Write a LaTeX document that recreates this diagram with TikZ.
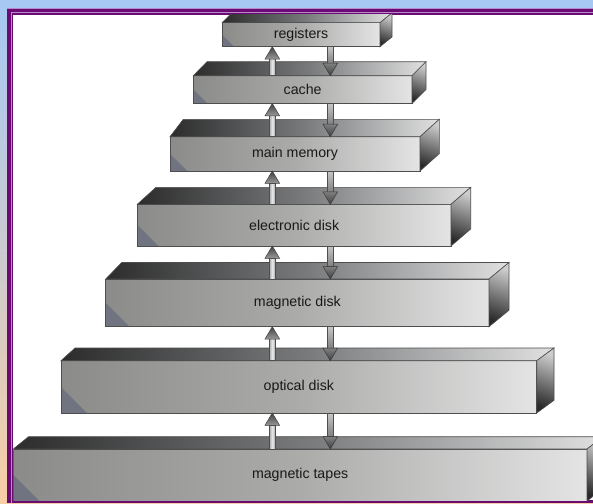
\documentclass[tikz,border=0pt]{standalone}
\usepackage{fontspec}
\setmainfont{Liberation Sans}
\definecolor{bgtop}{HTML}{A6C8F3}
\definecolor{bgbot}{HTML}{F8CEA4}
\definecolor{purp}{HTML}{6B0A72}
\definecolor{lilac}{HTML}{B68ACB}
\definecolor{frlo}{HTML}{707380}
\definecolor{frleft}{HTML}{8B8C89}
\definecolor{frmid}{HTML}{ABABAA}
\definecolor{frhi}{HTML}{E4E4E4}
\definecolor{toplo}{HTML}{2C2C2C}
\definecolor{topmid}{HTML}{787A7C}
\definecolor{tophi}{HTML}{E0E0E0}
\definecolor{sidehi}{HTML}{CDCDCD}
\definecolor{sidelo}{HTML}{2A2A2A}
\definecolor{edgec}{HTML}{4E4E4E}
\begin{document}
\begin{tikzpicture}[x=1pt,y=-1pt,
  front/.style={left color=frleft, right color=frhi, middle color=frmid,
    draw=edgec, line width=0.6pt,
    inner sep=0pt, outer sep=0pt, font=\fontsize{14.2}{17}\selectfont, text=black!90,
    path picture={\shade[bottom color=frlo, middle color=frleft, top color=frleft, shading angle=-45]
      (path picture bounding box.south west) -- ++(#1,0) -- ++(-#1,-#1) -- cycle;}},
  topface/.style={left color=toplo, right color=tophi, middle color=topmid, draw=edgec, line width=0.6pt},
  sideface/.style={top color=sidehi, bottom color=sidelo, shading angle=-20, draw=edgec, line width=0.6pt},
  upshaft/.style={left color=gray!70, right color=gray!75, middle color=white!92!black, draw=edgec, line width=0.5pt},
  uphead/.style={top color=black!75, bottom color=black!40, draw=black!75, line width=0.5pt},
  downshaft/.style={top color=black!22, bottom color=black!50, draw=edgec, line width=0.5pt},
  downhead/.style={top color=black!50, bottom color=black!75, draw=black!78, line width=0.5pt}]
\useasboundingbox (0,0) rectangle (593,503);
% background and frame
\shade[top color=bgtop, bottom color=bgbot, middle color=bgtop!55!bgbot] (0,0) rectangle (593,503);
\fill[lilac] (7,8) rectangle (593,503);
\fill[purp] (7,9) rectangle (593,503);
\fill[lilac] (11,12) rectangle (593,503);
\fill[purp] (12,13.3) rectangle (593,503);
\fill[white] (13.3,14.7) rectangle (593,500);
\coordinate (colU) at (272.3,0);
\coordinate (colD) at (330.3,0);
\newcommand\blk[5]{%
  \path[topface] (#1.north west) -- (#2,#4) -- (#3,#4) -- (#1.north east) -- cycle;
  \path[sideface] (#1.north east) -- (#3,#4) -- (#3,#4+#5) -- (#1.south east) -- cycle;
}
\newcommand\updown[2]{%
  \coordinate (#1-ut) at (colU |- #1.south);
  \coordinate (#2-ub) at (colU |- #2.north);
  \coordinate (#1-dt) at (colD |- #1.south);
  \coordinate (#2-db) at (colD |- #2.north);
  \path[upshaft] ([xshift=-3.2pt]#2-ub) rectangle ([xshift=3.2pt,yshift=-12pt]#1-ut);
  \path[uphead] (#1-ut) -- ([xshift=7.3pt,yshift=-12.3pt]#1-ut) -- ([xshift=-7.3pt,yshift=-12.3pt]#1-ut) -- cycle;
  \path[downshaft] ([xshift=-3pt]#1-dt) rectangle ([xshift=3pt,yshift=12.5pt]#2-db);
  \path[downhead] (#2-db) -- ([xshift=7.3pt,yshift=12.5pt]#2-db) -- ([xshift=-7.3pt,yshift=12.5pt]#2-db) -- cycle;
}
\begin{scope}
\clip (13.3,14.7) rectangle (593,500);
\node[front=12, minimum width=158pt, minimum height=24pt] (reg) at (301,34.7) {registers};
\blk{reg}{232}{392}{13}{24}
\node[front=14, minimum width=218.7pt, minimum height=27.8pt] (cache) at (302.65,89.6) {cache};
\blk{cache}{207}{426}{61.7}{27.8}
\node[front=17, minimum width=250pt, minimum height=34.3pt] (mm) at (295,153.85) {main memory};
\blk{mm}{183.3}{439.3}{119.3}{34.3}
\node[front=21, minimum width=313.7pt, minimum height=41.7pt] (ed) at (294.15,225.15) {electronic disk};
\blk{ed}{156}{470.7}{187.3}{41.7}
\node[front=24, minimum width=383.3pt, minimum height=47.7pt] (md) at (297.35,302.85) {magnetic disk};
\blk{md}{121.7}{509}{262.5}{47.7}
\node[front=26, minimum width=475.7pt, minimum height=52.3pt] (od) at (298.85,386.85) {optical disk};
\blk{od}{75}{554}{348}{52.3}
\node[front=26, minimum width=573.7pt, minimum height=52pt] (mt) at (300.15,475) {magnetic tapes};
\blk{mt}{28.5}{603}{436.7}{52}
\updown{reg}{cache}
\updown{cache}{mm}
\updown{mm}{ed}
\updown{ed}{md}
\updown{md}{od}
\updown{od}{mt}
\end{scope}
\end{tikzpicture}
\end{document}
